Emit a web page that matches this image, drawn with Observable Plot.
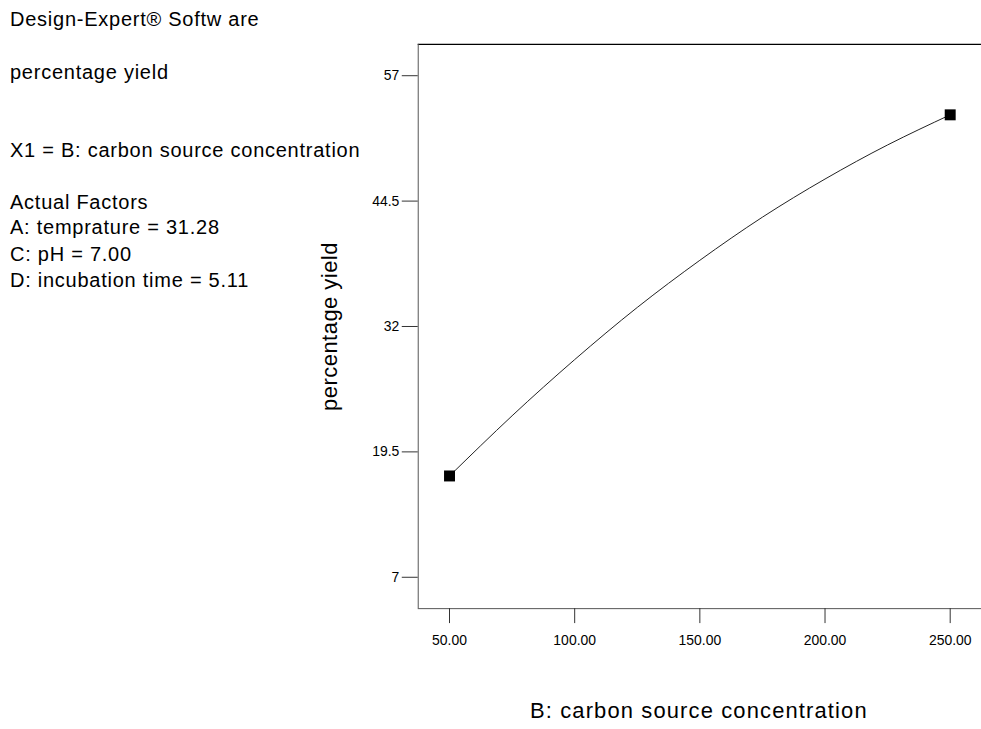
<!DOCTYPE html>
<html>
<head>
<meta charset="utf-8">
<script src="https://cdn.jsdelivr.net/npm/d3@7"></script>
<script src="https://cdn.jsdelivr.net/npm/@observablehq/plot@0.6"></script>
<style>
  html, body { margin: 0; padding: 0; background: #fff; overflow: hidden; }
  #wrap { position: relative; width: 981px; height: 729px; overflow: hidden; }
  #info { position: absolute; left: 0; top: 0; font-family: Arial, "Liberation Sans", sans-serif;
          font-size: 20px; letter-spacing: 0.75px; color: #000; }
  #info div { position: absolute; left: 10px; white-space: nowrap; line-height: 1; }
  #chart { position: absolute; left: 0; top: 0; }
</style>
</head>
<body>
<div id="wrap">
  <div id="chart"></div>
  <div id="info"></div>
</div>
<script>
// Header notes of the one-factor plot
const infoLines = [
  "Design-Expert® Softw are",
  "percentage yield",
  "X1 = B: carbon source concentration",
  "Actual Factors",
  "A: temprature = 31.28",
  "C: pH = 7.00",
  "D: incubation time = 5.11"
];
const infoBaselines = [27, 80, 158, 210, 235, 262, 288];

// Predicted response along factor B
const concentration = [50, 75, 100, 125, 150, 175, 200, 225, 250];
const yieldPred = [17.1, 23.1, 28.7, 33.9, 38.6, 42.9, 46.7, 50.1, 53.1];

// Design points shown as squares at the ends of the range
const designX = [50, 250];
const designY = [17.1, 53.1];

// Axis ticks
const xTicks = [50, 100, 150, 200, 250];
const yTicks = [7, 19.5, 32, 44.5, 57];

const xDomain = [37.5, 262.5];
const yDomain = [3.875, 60.125];

const curve = concentration.map((x, i) => ({x, y: yieldPred[i]}));
const design = designX.map((x, i) => ({x, y: designY[i]}));

const font = 'Arial, "Liberation Sans", sans-serif';

const chart = Plot.plot({
  width: 984,
  height: 729,
  marginLeft: 419,
  marginTop: 44,
  marginRight: 0,
  marginBottom: 119,
  style: {fontFamily: font, fontSize: "14px", background: "#fff", overflow: "visible"},
  x: {domain: xDomain, ticks: xTicks, label: null},
  y: {domain: yDomain, ticks: yTicks, label: null},
  marks: [
    Plot.ruleY([yDomain[1]], {stroke: "#000", strokeWidth: 1.2}),
    Plot.ruleY([yDomain[0]], {stroke: "#555"}),
    Plot.ruleX([xDomain[0]], {stroke: "#555"}),
    Plot.axisX({ticks: xTicks, tickSize: 15, tickPadding: 12, stroke: "#333",
      tickFormat: d => d.toFixed(2), label: null, fontSize: 14, fill: "#000"}),
    Plot.axisY({ticks: yTicks, tickSize: 16, tickPadding: 3, stroke: "#333",
      tickFormat: d => String(d), label: null, fontSize: 14, fill: "#000"}),
    Plot.line(curve, {x: "x", y: "y", curve: "natural", stroke: "#222", strokeWidth: 1}),
    Plot.dot(design, {x: "x", y: "y", symbol: "square", r: 6.2, fill: "#000", stroke: "none"}),
    Plot.text(["B: carbon source concentration"], {
      frameAnchor: "bottom", dy: 110, lineAnchor: "bottom", fontSize: 22, fill: "#000", dx: -1
    }),
    Plot.text(["percentage yield"], {
      frameAnchor: "left", dx: -89, rotate: -90, textAnchor: "middle", lineAnchor: "middle",
      fontSize: 22, fill: "#000"
    })
  ]
});

// Wider spacing of the axis titles
chart.querySelectorAll("text").forEach(t => {
  const s = t.textContent;
  if (s === "B: carbon source concentration") t.setAttribute("letter-spacing", "1.15px");
  if (s === "percentage yield") t.setAttribute("letter-spacing", "0.5px");
});
document.getElementById("chart").appendChild(chart);

const info = document.getElementById("info");
infoLines.forEach((s, i) => {
  const d = document.createElement("div");
  d.textContent = s;
  // line-height 1 puts the baseline roughly 0.9em below the box top
  d.style.top = (infoBaselines[i] - 18) + "px";
  info.appendChild(d);
});
</script>
</body>
</html>
